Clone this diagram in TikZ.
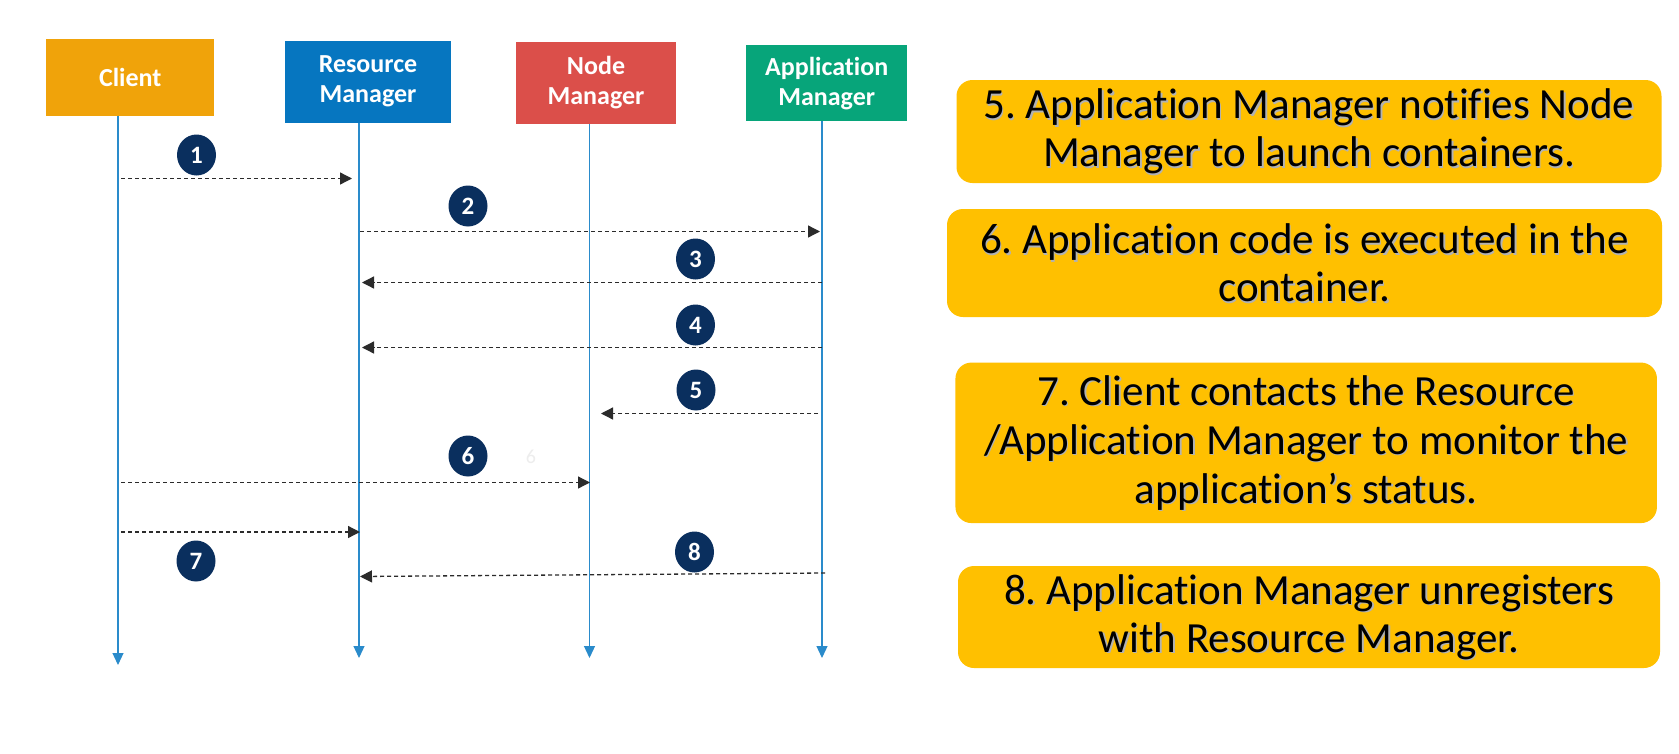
\documentclass[tikz,border=0pt]{standalone}
\usepackage{fontspec}
\setmainfont{Carlito}[Ligatures=NoCommon]
\usetikzlibrary{arrows.meta,shapes.geometric}
\definecolor{clientc}{HTML}{F0A30A}
\definecolor{rmc}{HTML}{0676C0}
\definecolor{nmc}{HTML}{DB4F4A}
\definecolor{amc}{HTML}{07A57A}
\definecolor{lifec}{HTML}{2A8BCB}
\definecolor{msgc}{HTML}{2B2B2B}
\definecolor{badgec}{HTML}{0A2F5E}
\definecolor{gold}{HTML}{FFC000}
\frenchspacing
\begin{document}
\begin{tikzpicture}[x=1pt,y=-1pt,
  hdr/.style={draw=none, inner sep=0pt, outer sep=0pt, text=white, font=\bfseries\fontsize{26}{30}\selectfont, align=center},
  life/.style={draw=lifec, line width=1.2pt, -{Triangle[length=12pt,width=11pt]}},
  msg/.style={draw=msgc, line width=1.3pt, dash pattern=on 4pt off 3pt, -{Triangle[length=12pt,width=12pt]}},
  badge/.style={ellipse, fill=badgec, minimum width=39pt, minimum height=41pt, inner sep=0pt, text=white, font=\bfseries\fontsize{25}{25}\selectfont},
  notebox/.style={rounded corners=16pt, fill=gold, inner sep=0pt, outer sep=0pt},
  notetext/.style={inner sep=0pt, align=center, font=\fontsize{43}{48}\selectfont},
  noteshadow/.style={notetext, text=black!30}
]
\useasboundingbox (0,0) rectangle (1679,753);
\fill[white] (0,0) rectangle (1679,753);

% header boxes
\node[hdr, fill=clientc, minimum width=168pt, minimum height=77pt] (client) at (130.2,77.2) {Client};
\node[hdr, fill=rmc, minimum width=166pt, minimum height=82pt] (rm) at (368,81.7) {Resource\\Manager};
\node[hdr, fill=nmc, minimum width=160pt, minimum height=82pt] (nm) at (596,83) {Node\\Manager};
\node[hdr, fill=amc, minimum width=161.5pt, minimum height=76pt] (am) at (826.7,83.3) {Application\\Manager};

% lifeline ends
\coordinate (cEnd) at (118,665);
\coordinate (rEnd) at (359,658);
\coordinate (nEnd) at (589.5,658);
\coordinate (aEnd) at (822,658);
\draw[life] (client.south -| cEnd) -- (cEnd);
\draw[life] (rm.south -| rEnd) -- (rEnd);
\draw[life] (nm.south -| nEnd) -- (nEnd);
\draw[life] (am.south -| aEnd) -- (aEnd);

% message end points
\coordinate (m1s) at (121,178.5); \coordinate (m1e) at (352,178.5);
\coordinate (m2s) at (360,231.5); \coordinate (m2e) at (820,231.5);
\coordinate (m3s) at (822,282.5); \coordinate (m3e) at (362,282.5);
\coordinate (m4s) at (822,347.5); \coordinate (m4e) at (362,347.5);
\coordinate (m5s) at (818,413.5); \coordinate (m5e) at (601,413.5);
\coordinate (m6s) at (121,482.5); \coordinate (m6e) at (590,482.5);
\coordinate (m7s) at (121,532); \coordinate (m7e) at (360,532);
\coordinate (m8s) at (825,573); \coordinate (m8e) at (360,576.5);
\draw[msg] (m1s) -- (m1e);
\draw[msg] (m2s) -- (m2e);
\draw[msg] (m3s) -- (m3e);
\draw[msg] (m4s) -- (m4e);
\draw[msg] (m5s) -- (m5e);
\draw[msg] (m6s) -- (m6e);
\draw[msg] (m7s) -- (m7e);
\draw[msg] (m8s) -- (m8e);

% badges
\node[badge] (b1) at (196.5,155) {1};
\node[badge] (b2) at (468,206) {2};
\node[badge] (b3) at (695.5,259) {3};
\node[badge] (b4) at (695.5,325) {4};
\node[badge] (b5) at (696,390) {5};
\node[badge] (b6) at (468,456) {6};
\node[text=black!7, font=\fontsize{20}{20}\selectfont] (ghost6) at (531,457) {6};
\node[badge] (b7) at (196,561) {7};
\node[badge] (b8) at (694.5,552) {8};

% notes
\node[notebox, minimum width=705pt, minimum height=103pt] (n5) at (1309,131.5) {};
\node[notebox, minimum width=715pt, minimum height=108pt] (n6) at (1304.5,263) {};
\node[notebox, minimum width=701.5pt, minimum height=160.5pt] (n7) at (1306.2,442.8) {};
\node[notebox, minimum width=702pt, minimum height=102pt] (n8) at (1309,617) {};

\node[noteshadow] (s5) at ([shift={(1.3,1.3)}]n5.center) {5. Application Manager notifies Node\\Manager to launch containers.};
\node[notetext] (t5) at (n5.center) {5. Application Manager notifies Node\\Manager to launch containers.};
\node[noteshadow] (s6) at ([shift={(1.3,1.3)}]n6.center) {6. Application code is executed in the\\container.};
\node[notetext] (t6) at (n6.center) {6. Application code is executed in the\\container.};
\node[noteshadow, font=\fontsize{43}{49}\selectfont] (s7) at ([shift={(1.3,1.3)}]n7.center) {7. Client contacts the Resource\\/Application Manager to monitor the\\application’s status.};
\node[notetext, font=\fontsize{43}{49}\selectfont] (t7) at (n7.center) {7. Client contacts the Resource\\/Application Manager to monitor the\\application’s status.};
\node[noteshadow] (s8) at ([shift={(1.3,1.3)}]n8.center) {8. Application Manager unregisters\\with Resource Manager.};
\node[notetext] (t8) at (n8.center) {8. Application Manager unregisters\\with Resource Manager.};
\end{tikzpicture}
\end{document}
